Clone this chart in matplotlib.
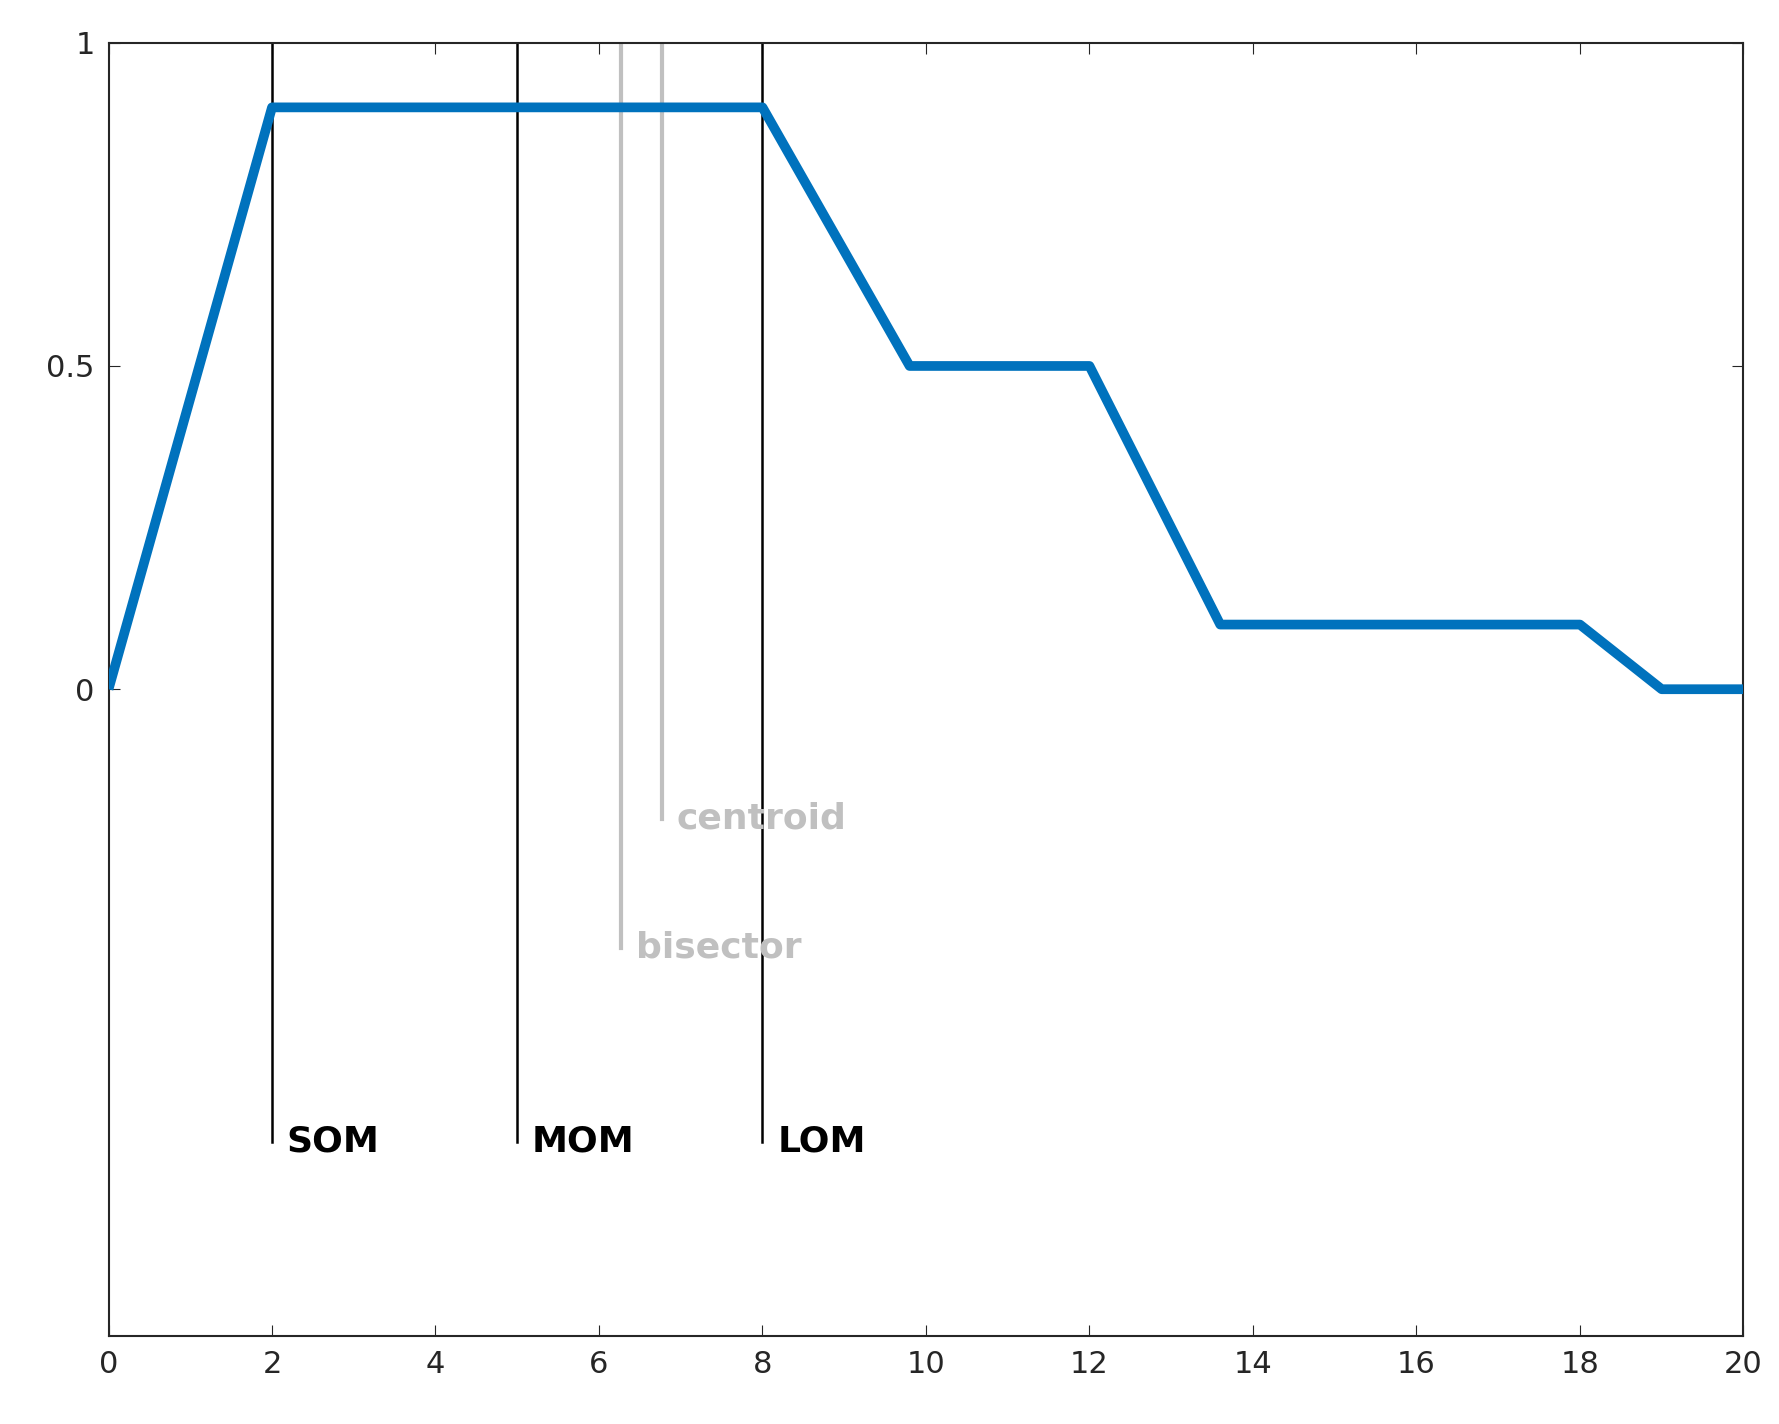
import matplotlib
matplotlib.use('Agg')
import matplotlib.pyplot as plt

x = [0, 2, 8, 9.8, 12, 13.6, 18, 19, 20]
mu = [0, 0.9, 0.9, 0.5, 0.5, 0.1, 0.1, 0, 0]

marks = ['SOM', 'MOM', 'LOM', 'bisector', 'centroid']
mark_x = [2, 5, 8, 6.27, 6.77]
mark_bottom = [-0.7, -0.7, -0.7, -0.4, -0.2]
mark_color = ['black', 'black', 'black', '#c0c0c0', '#c0c0c0']

fig = plt.figure(figsize=(17.79, 14.24), dpi=100)
ax = fig.add_axes([0.061, 0.062, 0.919, 0.908])

ax.plot(x, mu, color='#0072BD', lw=7, solid_capstyle='butt', zorder=3)
for name, xm, yb, c in zip(marks, mark_x, mark_bottom, mark_color):
    ax.plot([xm, xm], [yb, 1], color=c, lw=1.8 if c == 'black' else 3, zorder=2)
    ax.text(xm + 0.18, yb, name, color=c, fontsize=26, fontweight='bold',
            ha='left', va='center')

ax.set_xlim(0, 20)
ax.set_ylim(-1, 1)
ax.set_xticks(range(0, 21, 2))
ax.set_yticks([0, 0.5, 1])
ax.set_yticklabels(['0', '0.5', '1'])
ax.tick_params(direction='in', top=True, right=True, labelsize=22, length=8,
               colors='#262626', pad=10)
for s in ax.spines.values():
    s.set_color('#262626')
    s.set_linewidth(1.5)

fig.savefig('out.png', dpi=100)
